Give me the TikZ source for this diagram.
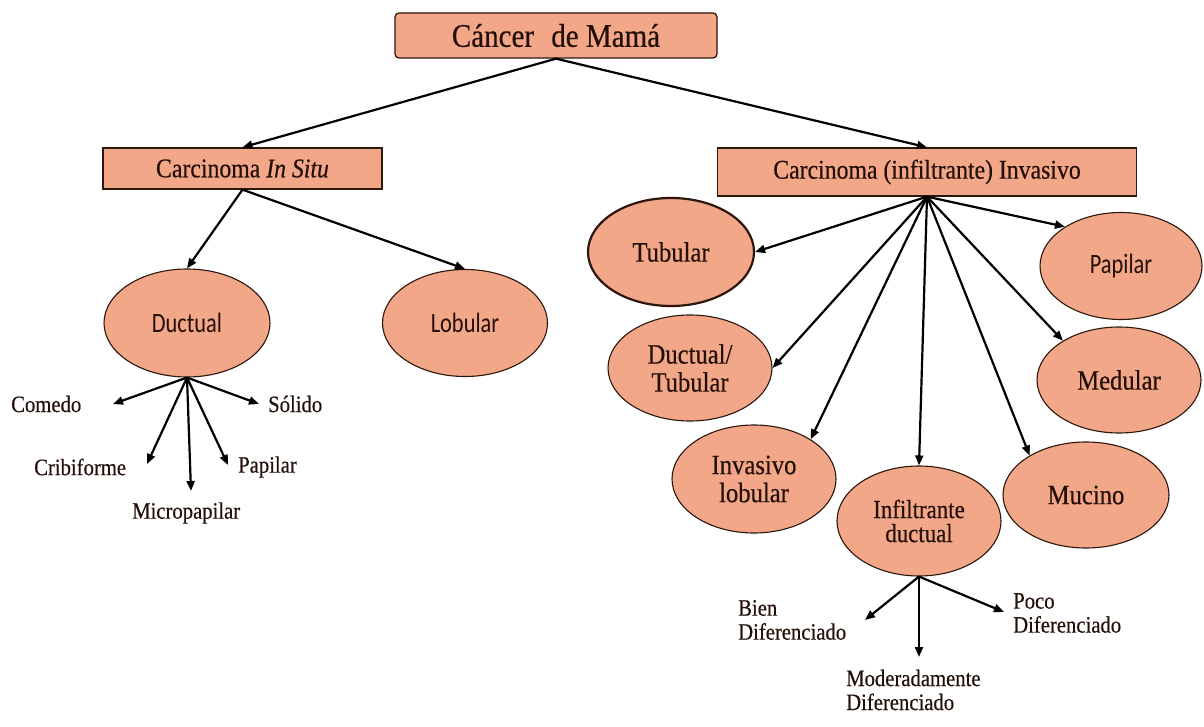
\documentclass[tikz,border=0pt]{standalone}
\usepackage{fontspec}
\setmainfont{Liberation Serif}[FakeStretch=0.88,FakeBold=0.4]
\newfontfamily\calib{Carlito}[FakeStretch=0.8]
\usetikzlibrary{arrows.meta,shapes.geometric}
\definecolor{salmon}{RGB}{242,167,136}
\definecolor{edgec}{RGB}{45,22,12}
\definecolor{txt}{RGB}{35,15,8}
\begin{document}
\begin{tikzpicture}[x=1pt,y=-1pt,
  box/.style={draw=edgec, fill=salmon, line width=1.3pt, inner sep=0pt, text=txt},
  oval/.style={ellipse, draw=edgec, fill=salmon, line width=1.1pt, inner sep=0pt, text=txt, align=center, font=\fontsize{28}{28}\selectfont},
  sansoval/.style={oval, font=\calib\fontsize{28}{30}\selectfont},
  lab/.style={text=txt, inner sep=0pt, align=left, font=\fontsize{23.5}{24}\selectfont},
  arr/.style={-{Triangle[length=10pt,width=8pt]}, line width=2.2pt, black}]
\useasboundingbox (0,0) rectangle (1204,727);
\fill[white] (0,0) rectangle (1204,727);

% boxes
\node[box, rounded corners=4pt, minimum width=322pt, minimum height=45pt, font=\fontsize{33}{34}\selectfont] (top) at (556,35.5) {Cáncer\hspace{0.3em} de Mamá};
\node[box, minimum width=279pt, minimum height=41pt, font=\fontsize{27}{28}\selectfont] (insitu) at (242.5,168.5) {Carcinoma \textit{In Situ}};
\node[box, minimum width=419pt, minimum height=48pt, font=\fontsize{27}{28}\selectfont] (inv) at (927,172) {Carcinoma (infiltrante) Invasivo};

% ovals
\node[sansoval, minimum width=166pt, minimum height=108pt] (duc) at (187,323) {Ductual};
\node[sansoval, minimum width=165pt, minimum height=107pt] (lob) at (465,323) {Lobular};
\node[oval, line width=2.2pt, minimum width=166pt, minimum height=108pt] (tub) at (671,252) {Tubular};
\node[sansoval, minimum width=162pt, minimum height=107pt] (pap) at (1121,266) {Papilar};
\node[oval, minimum width=164pt, minimum height=106pt] (dt) at (690,368) {Ductual/\\Tubular};
\node[oval, minimum width=164pt, minimum height=106pt] (med) at (1119,380) {Medular};
\node[oval, minimum width=164pt, minimum height=108pt] (il) at (754,479) {Invasivo\\lobular};
\node[oval, minimum width=164pt, minimum height=110pt, font=\fontsize{26}{24}\selectfont] (inf) at (919,521) {Infiltrante\\ductual};
\node[oval, minimum width=166pt, minimum height=106pt] (muc) at (1086,495) {Mucino};

% labels
\node[lab, anchor=west] (com) at (11,404) {Comedo};
\node[lab, anchor=west] (sol) at (268,404) {Sólido};
\node[lab, anchor=west] (cri) at (34,467) {Cribiforme};
\node[lab, anchor=west] (pp) at (238,467) {Papilar};
\node[lab, anchor=west] (mic) at (132,513) {Micropapilar};
\node[lab, anchor=west] (bien) at (738,620) {Bien\\Diferenciado};
\node[lab, anchor=west] (poco) at (1013,613) {Poco\\Diferenciado};
\node[lab, anchor=west] (mod) at (846,690) {Moderadamente\\Diferenciado};

% arrow tips (free ends)
\coordinate (cC) at (113,404);
\coordinate (cS) at (259,404);
\coordinate (cCr) at (147,464);
\coordinate (cM) at (191,491);
\coordinate (cP) at (228,465);
\coordinate (cB) at (865,620);
\coordinate (cMo) at (919,657);
\coordinate (cPo) at (1004,612);

% connectors
\draw[arr] (top.south) -- (insitu.north);
\draw[arr] (top.south) -- (inv.north);
\draw[arr] (insitu.south) -- (duc.north);
\draw[arr] (insitu.south) -- (lob.north);

\draw[arr] (inv.south) -- (tub.east);
\draw[arr] (inv.south) -- (dt.east);
\draw[arr] (inv.south) -- (il.35);
\draw[arr] (inv.south) -- (inf.north);
\draw[arr] (inv.south) -- (muc.145);
\draw[arr] (inv.south) -- (med.145);
\draw[arr] (inv.south) -- (pap.145);

\draw[arr] (duc.south) -- (cC);
\draw[arr] (duc.south) -- (cS);
\draw[arr] (duc.south) -- (cCr);
\draw[arr] (duc.south) -- (cM);
\draw[arr] (duc.south) -- (cP);

\draw[arr] (inf.south) -- (cB);
\draw[arr] (inf.south) -- (cMo);
\draw[arr] (inf.south) -- (cPo);
\end{tikzpicture}
\end{document}
